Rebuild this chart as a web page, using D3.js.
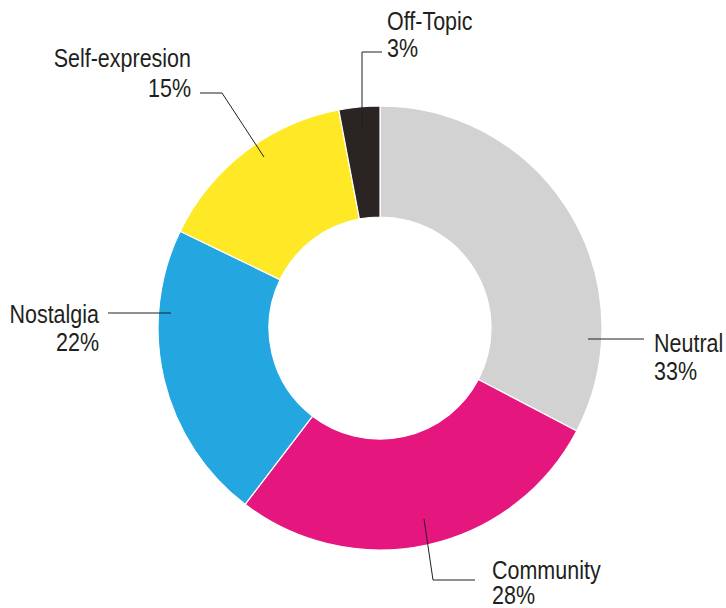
<!DOCTYPE html>
<html>
<head>
<meta charset="utf-8">
<script src="https://cdn.jsdelivr.net/npm/d3@7"></script>
<style>
  html, body { margin: 0; padding: 0; background: #fff; }
  svg text { font-family: "Liberation Sans", Arial, sans-serif; fill: #231f20; }
</style>
</head>
<body>
<svg id="chart" width="726" height="608"></svg>
<script>
// Share of posts by theme (percent)
const categories = ["Neutral", "Community", "Nostalgia", "Self-expresion", "Off-Topic"];
const values = [33, 28, 22, 15, 3];
const colors = ["#d3d2d3", "#e5177f", "#24a7e0", "#ffe926", "#2a2523"];

// Label placement: leader polyline and text anchor, relative to the centre
const labelLayout = [
  { pts: [[208, 11], [264, 11]], tx: 274, ty: 24, gap: 28, anchor: "start" },
  { pts: [[44, 191], [53, 252], [95, 252]], tx: 112, ty: 251, gap: 25, anchor: "start" },
  { pts: [[-209, -15], [-272, -15]], tx: -281, ty: -5, gap: 28, anchor: "end" },
  { pts: [[-116, -171], [-158, -235], [-180, -235]], tx: -189, ty: -261, gap: 30, anchor: "end" },
  { pts: [[-18, -201], [-18, -276], [2, -276]], tx: 7, ty: -298, gap: 27, anchor: "start" }
];

const cx = 380, cy = 328;
const outerR = 222, innerR = 111;
const fontSize = 25, condense = 0.86;

const svg = d3.select("#chart");
const g = svg.append("g").attr("transform", `translate(${cx},${cy})`);

const pie = d3.pie().sort(null).value(d => d.value);
const arc = d3.arc().innerRadius(innerR).outerRadius(outerR);
const data = categories.map((c, i) => ({ name: c, value: values[i], color: colors[i], layout: labelLayout[i] }));

g.selectAll("path.slice")
  .data(pie(data))
  .join("path")
  .attr("class", "slice")
  .attr("d", arc)
  .attr("fill", d => d.data.color)
  .attr("stroke", "#fff")
  .attr("stroke-width", 1.2);

const line = d3.line();
g.selectAll("path.leader")
  .data(data)
  .join("path")
  .attr("class", "leader")
  .attr("d", d => line(d.layout.pts))
  .attr("fill", "none")
  .attr("stroke", "#231f20")
  .attr("stroke-width", 1);

// Condensed label text: regular face squeezed horizontally
const labels = g.selectAll("text.lbl")
  .data(data)
  .join("text")
  .attr("class", "lbl")
  .attr("text-anchor", d => d.layout.anchor)
  .attr("font-size", fontSize)
  .attr("transform", d => `translate(${d.layout.tx},${d.layout.ty}) scale(${condense},1)`);

labels.append("tspan")
  .attr("x", 0)
  .attr("y", 0)
  .text(d => d.name);
labels.append("tspan")
  .attr("x", 0)
  .attr("dy", d => d.layout.gap)
  .text(d => d.value + "%");
</script>
</body>
</html>
